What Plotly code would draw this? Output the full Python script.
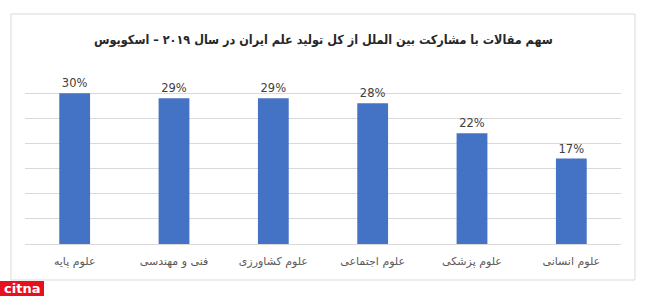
import plotly.graph_objects as go

categories = ["علوم پایه", "فنی و مهندسی", "علوم کشاورزی", "علوم اجتماعی", "علوم پزشکی", "علوم انسانی"]
values = [30, 29, 29, 28, 22, 17]
labels = ["30%", "29%", "29%", "28%", "22%", "17%"]
title_text = "سهم مقالات با مشارکت بین الملل از کل تولید علم ایران در سال ۲۰۱۹ – اسکوپوس"

W, H = 652, 296
L, R, T, B = 25, 31, 68, 52
pw, ph = W - L - R, H - T - B

def px(x):
    return (x - L) / pw

def py(y):
    return (H - B - y) / ph

fig = go.Figure(go.Bar(
    x=categories, y=values, text=labels, textposition="outside",
    textfont=dict(family="DejaVu Sans", size=11.5, color="#404040"),
    marker=dict(color="#4472C4", line=dict(width=0)),
    cliponaxis=False, width=0.31,
))

fig.update_layout(
    width=W, height=H, margin=dict(l=L, r=R, t=T, b=B),
    paper_bgcolor="white", plot_bgcolor="white",
    showlegend=False,
    xaxis=dict(showgrid=False, showline=False, ticks="", zeroline=False,
               ticklabelstandoff=9,
               tickfont=dict(family="DejaVu Sans", size=11, color="#595959")),
    yaxis=dict(range=[0, 35], dtick=5, showgrid=True, gridcolor="#d9d9d9", gridwidth=1,
               showticklabels=False, zeroline=True, zerolinecolor="#d9d9d9", zerolinewidth=1,
               showline=False, ticks=""),
    shapes=[
        dict(type="rect", xref="paper", yref="paper",
             x0=px(11), x1=px(635), y0=py(280), y1=py(14),
             line=dict(color="#d9d9d9", width=1), fillcolor="rgba(0,0,0,0)", layer="below"),
        dict(type="rect", xref="paper", yref="paper",
             x0=px(0), x1=px(44), y0=py(296), y1=py(281),
             line=dict(width=0), fillcolor="#e8101e"),
    ],
    annotations=[
        dict(text="<b>" + title_text + "</b>", xref="paper", yref="paper",
             x=px(323), y=py(40), showarrow=False,
             font=dict(family="DejaVu Sans Condensed", size=12.5, color="#262626"),
             xanchor="center", yanchor="middle"),
        dict(text="<b>citna</b>", xref="paper", yref="paper",
             x=px(22), y=py(288.5), showarrow=False,
             font=dict(family="DejaVu Sans", size=13, color="white"),
             xanchor="center", yanchor="middle"),
    ],
)

fig.write_html("out.html")
